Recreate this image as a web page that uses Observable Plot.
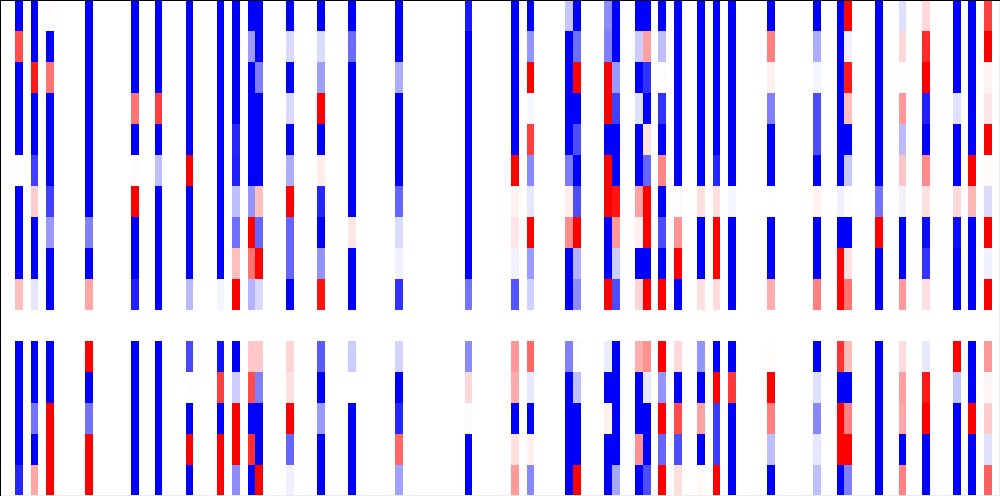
<!DOCTYPE html>
<html>
<head>
<meta charset="utf-8">
<style>html,body{margin:0;padding:0;background:#fff;overflow:hidden}svg{display:block}</style>
<script src="https://cdn.jsdelivr.net/npm/d3@7"></script>
<script src="https://cdn.jsdelivr.net/npm/@observablehq/plot@0.6"></script>
</head>
<body>
<script>
const columnCount = 129;
const rowCount = 16;
// value per row (0..15) for each non-empty column; row 10 is the blank row
const col2   = [-1,.7,-1,-1,-1,.01,-1,-1,-1,.25,0,-1,-1,-1,-1,-.85];
const col4   = [-1,-1,.9,-1,-1,-.75,.2,-1,-1,-.1,0,-1,-1,-.55,-1,.35];
const col6   = [.015,-1,.55,-1,-1,-1,-.75,-.4,-1,-1,0,-1,-1,1,1,1];
const col11  = [-1,-1,-1,-1,-1,-1,-1,-.5,-1,.35,0,1,-1,-.55,1,1];
const col17  = [-1,-1,-1,.55,-1,.015,1,-1,-1,-.87,0,-1,-1,-1,-1,-1];
const col20  = [-1,-1,-1,.75,-1,-.25,-1,-1,-1,-1,0,-1,-1,-1,-1,-1];
const col24  = [-1,-1,-1,-1,-1,1,-1,-1,-1,-.27,0,-.72,-.01,-1,1,-1];
const col28  = [-1,-1,-1,-1,-1,-1,-1,-1,-1,-.04,0,-.93,.75,-1,1,1];
const col30  = [-1,-1,-1,-1,-.85,-.87,-.25,-.57,.25,1,0,-1,-.2,1,1,-.45];
const col32  = [-1,-.4,-1,-1,-1,-1,-.42,1,.55,-.3,0,.22,.7,-1,.82,-1];
const col33  = [-1,-1,-.5,-1,-1,-1,.25,-.6,1,-.15,0,.22,-.5,-1,-1,1];
const col37  = [-1,-.15,-1,-.15,-1,-.33,1,-.6,-.6,-1,0,.17,.12,1,-.6,-.06];
const col41  = [-1,-.14,-.38,1,-1,.08,-.85,-1,-.43,.93,0,-.65,-1,-.4,-1,-1];
const col45  = [-1,-.58,-1,-1,-1,-1,-1,.1,-1,-1,0,-.2,0,-1,-1,-1];
const col51  = [-1,-1,-.32,-1,-1,-1,-.6,-.14,-.06,-.8,0,-.17,-1,-.85,.6,-.37];
const col60  = [-.9,-1,-1,-1,-1,-1,-1,-1,-1,-.55,0,-.45,.15,-.01,-1,-1];
const col66  = [-1,-1,-1,-1,-1,1,.05,.1,-.06,-.67,0,.4,.33,-1,.13,.4];
const col68  = [-1,-.42,1,-.03,.75,-.47,-.1,1,-.4,-.18,0,.6,-.09,-1,.06,-.47];
const col73  = [-.22,-1,-1,-1,-1,-.52,.07,.45,-1,-1,0,-.5,-1,-1,-1,-1];
const col74  = [-1,-.57,1,-1,-.7,-1,-.7,1,-.3,-.45,0,-.01,-.25,-1,-1,1];
const col78  = [-.45,-.5,1,1,-1,1,1,-1,-1,1,0,-.08,-1,.06,-1,-1];
const col79  = [-1,-1,-.4,-.75,-1,-1,.92,.4,-.2,-.7,0,-1,-1,-1,-1,-.35];
const col82  = [-1,-.2,-1,-.12,-1,-1,.37,.06,-1,.17,0,.32,-1,-1,.43,-1];
const col83  = [-1,.37,-.8,-1,.11,-.6,1,1,-1,1,0,.43,-.09,-1,-1,-.7];
const col85  = [-1,-.25,-.01,-.8,-1,.47,-1,-.7,-1,1,0,1,-.42,1,-.6,1];
const col87  = [-1,-1,-1,-1,-1,-1,-.01,.42,1,-1,0,.15,-1,.7,-.7,.13];
const col90  = [-1,-1,-1,-1,-1,-1,.12,-1,-1,.12,0,-.42,-1,.37,-1,.02];
const col92  = [-1,-1,-1,-1,-1,-.85,.12,1,1,.14,0,-1,1,-.77,-.77,1];
const col94  = [-1,-1,-1,-1,-1,-1,-.04,-1,-1,-1,0,-1,.78,-1,-1,-1];
const col99  = [-1,.5,.06,-.5,-1,-1,.005,-1,-1,.32,0,.01,1,.5,-.25,-1];
const col105 = [-1,-.32,-.04,-.7,-.7,-1,.05,-1,-1,.5,0,-1,-.12,-.47,-.1,-.25];
const col108 = [-1,-1,-1,-1,-1,-1,-.06,-1,1,1,0,.8,-1,1,1,-1];
const col109 = [1,-.06,.9,.25,-1,-.22,-.01,-1,.12,.55,0,.27,-1,.5,1,-.5];
const col113 = [-1,-1,-1,-1,-1,-1,-.55,1,-1,-1,0,-1,-1,-1,-1,-1];
const col116 = [-.13,.15,.01,.4,-.27,.23,-.05,-1,-1,.4,0,.14,.38,.35,-1,.5];
const col119 = [.15,.83,1,-.88,-1,.45,.12,-.95,-.8,.13,0,-.09,.9,1,-1,-1];
const col123 = [-1,-1,-1,-.12,-1,-1,.15,-.95,-1,-1,0,1,-.23,-1,-1,-1];
const col125 = [-1,-1,-1,-1,-1,1,.28,-1,-1,-1,0,-1,-1,1,-1,-1];
const col127 = [.75,1,.05,.1,1,.015,-.14,1,-.06,1,0,.4,.04,.2,-.12,.62];

const columnIds = [2,4,6,11,17,20,24,28,30,32,33,37,41,45,51,60,66,68,73,74,78,79,82,83,85,87,90,92,94,99,105,108,109,113,116,119,123,125,127];
const columnValues = [col2,col4,col6,col11,col17,col20,col24,col28,col30,col32,col33,col37,col41,col45,col51,col60,col66,col68,col73,col74,col78,col79,col82,col83,col85,col87,col90,col92,col94,col99,col105,col108,col109,col113,col116,col119,col123,col125,col127];

const cells = columnIds.flatMap((c, i) => columnValues[i].map((v, r) => ({c, r, v})));

const chart = Plot.plot({
  width: 1000,
  height: 496,
  margin: 0,
  style: {background: "#fff"},
  x: {type: "band", domain: d3.range(columnCount), range: [-0.5, 999.5], round: false, padding: 0, axis: null},
  y: {type: "band", domain: d3.range(rowCount), range: [0, 496], round: false, padding: 0, axis: null},
  color: {type: "linear", domain: [-1, 0, 1], range: ["#0000ff", "#ffffff", "#ff0000"], interpolate: "rgb", clamp: true},
  marks: [
    Plot.cell(cells, {x: "c", y: "r", fill: "v", shapeRendering: "crispEdges"}),
    Plot.frame({anchor: "right", stroke: "#eeeeee", insetRight: 1}),
    Plot.frame({anchor: "bottom", stroke: "#eeeeee", insetBottom: 1}),
    Plot.frame({anchor: "top", stroke: "#000000"}),
    Plot.frame({anchor: "left", stroke: "#000000"})
  ]
});
document.body.appendChild(chart);
</script>
</body>
</html>
